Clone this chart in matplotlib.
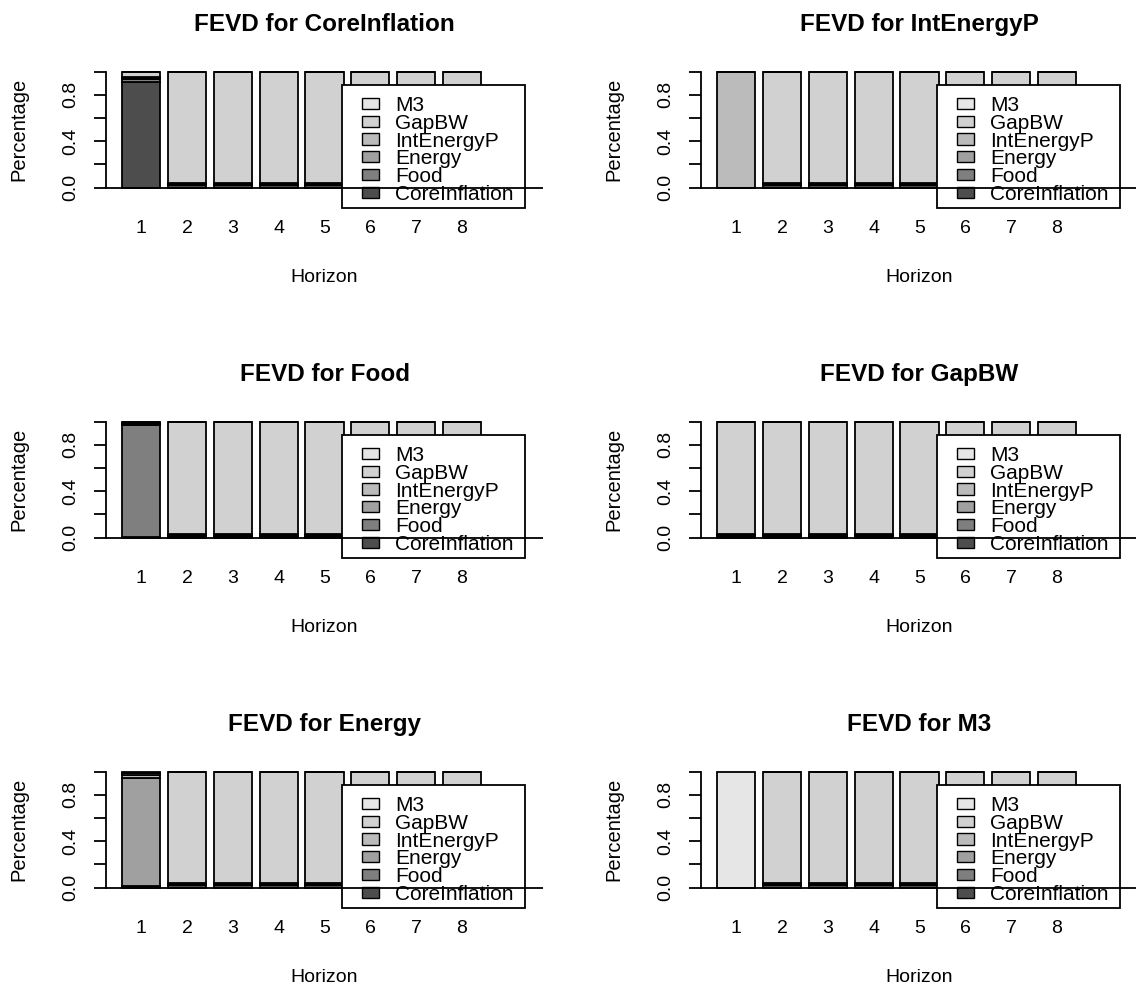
import numpy as np
import matplotlib
matplotlib.use("Agg")
import matplotlib.pyplot as plt
from matplotlib.patches import Patch, Rectangle

plt.rcParams['font.family'] = ['Liberation Sans', 'DejaVu Sans']

variables = ['CoreInflation', 'Food', 'Energy', 'IntEnergyP', 'GapBW', 'M3']
colors = ['#4D4D4D', '#7F7F7F', '#A0A0A0', '#BBBBBB', '#D1D1D1', '#E6E6E6']
horizons = [1, 2, 3, 4, 5, 6, 7, 8]

# share of forecast error variance, one row per horizon,
# columns follow `variables`
fevd_coreinflation = [
    [0.915, 0.020, 0.010, 0.010, 0.040, 0.005],
    [0.020, 0.010, 0.005, 0.005, 0.960, 0.000],
    [0.020, 0.010, 0.005, 0.005, 0.960, 0.000],
    [0.020, 0.010, 0.005, 0.005, 0.960, 0.000],
    [0.020, 0.010, 0.005, 0.005, 0.960, 0.000],
    [0.020, 0.010, 0.005, 0.005, 0.960, 0.000],
    [0.020, 0.010, 0.005, 0.005, 0.960, 0.000],
    [0.020, 0.010, 0.005, 0.005, 0.960, 0.000],
]
fevd_food = [
    [0.005, 0.970, 0.005, 0.005, 0.010, 0.005],
    [0.015, 0.010, 0.005, 0.005, 0.965, 0.000],
    [0.015, 0.010, 0.005, 0.005, 0.965, 0.000],
    [0.015, 0.010, 0.005, 0.005, 0.965, 0.000],
    [0.015, 0.010, 0.005, 0.005, 0.965, 0.000],
    [0.015, 0.010, 0.005, 0.005, 0.965, 0.000],
    [0.015, 0.010, 0.005, 0.005, 0.965, 0.000],
    [0.015, 0.010, 0.005, 0.005, 0.965, 0.000],
]
fevd_energy = [
    [0.005, 0.010, 0.930, 0.025, 0.020, 0.010],
    [0.020, 0.010, 0.005, 0.005, 0.960, 0.000],
    [0.020, 0.010, 0.005, 0.005, 0.960, 0.000],
    [0.020, 0.010, 0.005, 0.005, 0.960, 0.000],
    [0.020, 0.010, 0.005, 0.005, 0.960, 0.000],
    [0.020, 0.010, 0.005, 0.005, 0.960, 0.000],
    [0.020, 0.010, 0.005, 0.005, 0.960, 0.000],
    [0.020, 0.010, 0.005, 0.005, 0.960, 0.000],
]
fevd_intenergyp = [
    [0.000, 0.000, 0.000, 1.000, 0.000, 0.000],
    [0.020, 0.010, 0.005, 0.005, 0.960, 0.000],
    [0.020, 0.010, 0.005, 0.005, 0.960, 0.000],
    [0.020, 0.010, 0.005, 0.005, 0.960, 0.000],
    [0.020, 0.010, 0.005, 0.005, 0.960, 0.000],
    [0.020, 0.010, 0.005, 0.005, 0.960, 0.000],
    [0.020, 0.010, 0.005, 0.005, 0.960, 0.000],
    [0.020, 0.010, 0.005, 0.005, 0.960, 0.000],
]
fevd_gapbw = [
    [0.015, 0.010, 0.005, 0.005, 0.965, 0.000],
    [0.015, 0.010, 0.005, 0.005, 0.965, 0.000],
    [0.015, 0.010, 0.005, 0.005, 0.965, 0.000],
    [0.015, 0.010, 0.005, 0.005, 0.965, 0.000],
    [0.015, 0.010, 0.005, 0.005, 0.965, 0.000],
    [0.015, 0.010, 0.005, 0.005, 0.965, 0.000],
    [0.015, 0.010, 0.005, 0.005, 0.965, 0.000],
    [0.015, 0.010, 0.005, 0.005, 0.965, 0.000],
]
fevd_m3 = [
    [0.000, 0.000, 0.000, 0.000, 0.000, 1.000],
    [0.020, 0.010, 0.005, 0.005, 0.960, 0.000],
    [0.020, 0.010, 0.005, 0.005, 0.960, 0.000],
    [0.020, 0.010, 0.005, 0.005, 0.960, 0.000],
    [0.020, 0.010, 0.005, 0.005, 0.960, 0.000],
    [0.020, 0.010, 0.005, 0.005, 0.960, 0.000],
    [0.020, 0.010, 0.005, 0.005, 0.960, 0.000],
    [0.020, 0.010, 0.005, 0.005, 0.960, 0.000],
]

# filled column by column, like par(mfcol) in R
panels = [
    ('CoreInflation', fevd_coreinflation),
    ('Food', fevd_food),
    ('Energy', fevd_energy),
    ('IntEnergyP', fevd_intenergyp),
    ('GapBW', fevd_gapbw),
    ('M3', fevd_m3),
]

W, H = 1136, 990
fig = plt.figure(figsize=(W / 100, H / 100), dpi=100)

col_left = [106, 701]
row_top = [67, 417, 767]
ax_w, ax_h = 437, 125.3

x_pos = 0.7 + 1.2 * (np.array(horizons) - 1)

for i, (name, data) in enumerate(panels):
    r, c = i % 3, i // 3
    ax = fig.add_axes([col_left[c] / W, 1 - (row_top[r] + ax_h) / H,
                       ax_w / W, ax_h / H])
    data = np.array(data)
    bottom = np.zeros(len(horizons))
    for j, var in enumerate(variables):
        ax.bar(x_pos, data[:, j], width=1.0, bottom=bottom, color=colors[j],
               edgecolor='black', linewidth=1.3, zorder=2)
        bottom += data[:, j]

    ax.set_xlim(-0.224, 11.224)
    ax.set_ylim(-0.04, 1.04)
    for s in ['top', 'right', 'bottom']:
        ax.spines[s].set_visible(False)
    ax.spines['left'].set_bounds(0, 1)
    ax.spines['left'].set_linewidth(1.3)

    ax.set_xticks(x_pos)
    ax.set_xticklabels([str(h) for h in horizons], fontsize=14)
    ax.tick_params(axis='x', length=0, pad=20)
    ax.set_yticks([0, 0.2, 0.4, 0.6, 0.8, 1.0])
    ax.set_yticklabels(['0.0', '', '0.4', '', '0.8', ''], fontsize=14,
                       rotation=90, va='center')
    ax.tick_params(axis='y', length=8.6, width=1.3, pad=11)

    ax.set_title('FEVD for ' + name, fontsize=17.5, fontweight='bold', pad=26)
    ax.set_xlabel('Horizon', fontsize=14, labelpad=23)
    ax.set_ylabel('Percentage', fontsize=14.5, labelpad=24)

    ax.axhline(0, color='black', linewidth=1.3, zorder=10)

    # legend box, drawn under the h=0 line as in the original
    frame = Rectangle((5.96, -0.175), 10.75 - 5.96, 0.885 + 0.175,
                      facecolor='white', edgecolor='black', linewidth=1.3,
                      clip_on=False, zorder=4)
    ax.add_patch(frame)
    handles = [Patch(facecolor=colors[j], edgecolor='black', linewidth=1.0)
               for j in range(len(variables))][::-1]
    leg = ax.legend(handles, variables[::-1], loc='upper left',
                    bbox_to_anchor=(6.48, 0.79), bbox_transform=ax.transData,
                    frameon=False, fontsize=15, borderpad=0, borderaxespad=0,
                    handlelength=0.8, handleheight=0.45, handletextpad=0.8,
                    labelspacing=-0.06)
    leg.set_zorder(5)

fig.savefig('out.png', dpi=100)
